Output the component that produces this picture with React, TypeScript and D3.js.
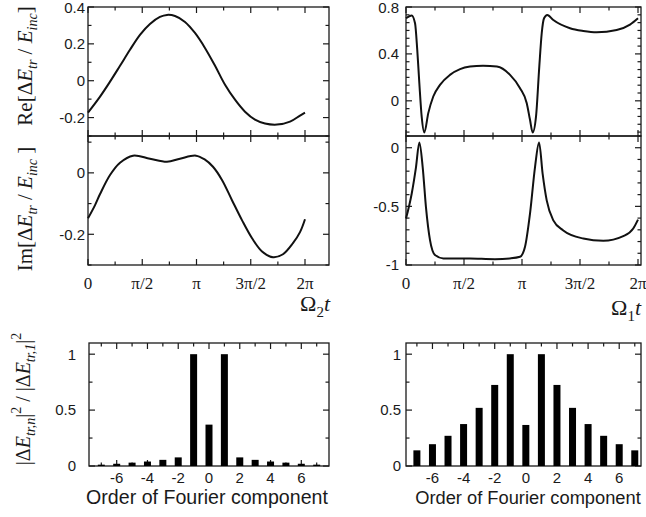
import React, { useEffect, useRef } from 'react';
import * as d3 from 'd3';

// t is given in units of pi (0..2)
const reOmega2T = [0, 0.111, 0.203, 0.295, 0.387, 0.479, 0.571, 0.663, 0.728, 0.802, 0.894, 0.986, 1.078, 1.171, 1.263, 1.355, 1.447, 1.539, 1.631, 1.742, 1.862, 1.954, 2.0];
const reOmega2V = [-0.173, -0.086, -0.005, 0.081, 0.168, 0.249, 0.308, 0.346, 0.357, 0.351, 0.319, 0.259, 0.178, 0.081, -0.022, -0.103, -0.168, -0.211, -0.232, -0.238, -0.222, -0.189, -0.173];

const imOmega2T = [0, 0.065, 0.111, 0.203, 0.295, 0.415, 0.571, 0.728, 0.848, 0.995, 1.078, 1.152, 1.235, 1.327, 1.419, 1.512, 1.604, 1.705, 1.797, 1.889, 1.954, 2.0];
const imOmega2V = [-0.148, -0.105, -0.069, -0.007, 0.033, 0.056, 0.046, 0.036, 0.046, 0.056, 0.043, 0.02, -0.023, -0.089, -0.154, -0.213, -0.256, -0.275, -0.265, -0.229, -0.193, -0.151];

const reOmega1T = [0, 0.049, 0.078, 0.097, 0.115, 0.135, 0.158, 0.192, 0.235, 0.293, 0.379, 0.466, 0.552, 0.664, 0.784, 0.897, 0.983, 1.041, 1.069, 1.092, 1.121, 1.149, 1.17, 1.19, 1.218, 1.27, 1.414, 1.528, 1.644, 1.816, 1.931, 2.0];
const reOmega1V = [0.704, 0.728, 0.661, 0.434, 0.15, -0.133, -0.27, -0.105, 0.037, 0.136, 0.221, 0.27, 0.292, 0.3, 0.292, 0.221, 0.108, -0.02, -0.162, -0.27, -0.133, 0.292, 0.576, 0.704, 0.732, 0.689, 0.619, 0.596, 0.585, 0.604, 0.65, 0.704];

const imOmega1T = [0, 0.049, 0.086, 0.115, 0.144, 0.172, 0.207, 0.25, 0.322, 0.552, 0.767, 0.897, 0.983, 1.026, 1.069, 1.112, 1.147, 1.178, 1.213, 1.27, 1.356, 1.528, 1.701, 1.873, 1.959, 2.0];
const imOmega1V = [-0.604, -0.392, -0.167, 0.045, -0.167, -0.506, -0.788, -0.915, -0.944, -0.945, -0.95, -0.944, -0.93, -0.845, -0.562, -0.167, 0.045, -0.223, -0.449, -0.619, -0.705, -0.774, -0.794, -0.754, -0.689, -0.613];

const fourierOrders = [-7, -6, -5, -4, -3, -2, -1, 0, 1, 2, 3, 4, 5, 6, 7];
const fourierLeft = [0.012, 0.02, 0.03, 0.04, 0.055, 0.077, 1, 0.37, 1, 0.077, 0.055, 0.04, 0.03, 0.02, 0.012];
const fourierRight = [0.14, 0.195, 0.27, 0.375, 0.52, 0.725, 1, 0.367, 1, 0.725, 0.52, 0.375, 0.27, 0.195, 0.14];

const piTicks = [0, 0.5, 1, 1.5, 2];
const piLabels = ['0', 'π/2', 'π', '3π/2', '2π'];
const piMinor = [0.25, 0.75, 1.25, 1.75];
const orderTicks = [-6, -4, -2, 0, 2, 4, 6];
const orderMinor = [-7, -5, -3, -1, 1, 3, 5, 7];

const SANS = 'Liberation Sans, Arial, sans-serif';
const SERIF = 'Liberation Serif, Times New Roman, serif';
const INK = '#1a1a1a';

const drawPanel = (g, p) => {
  const { x, y, x0, x1, y0, y1, xMaj, xMin, yMaj, yMin } = p;
  const segs = [];
  const add = (vals, len, horiz) => vals.forEach(v => {
    if (horiz) {
      const xv = x(v);
      segs.push([xv, y0, xv, y0 + len], [xv, y1, xv, y1 - len]);
    } else {
      const yv = y(v);
      segs.push([x0, yv, x0 + len, yv], [x1, yv, x1 - len, yv]);
    }
  });
  add(xMaj, 6, true);
  add(xMin, 3.5, true);
  add(yMaj, 6, false);
  add(yMin, 3.5, false);

  g.append('rect')
    .attr('x', x0).attr('y', y0)
    .attr('width', x1 - x0).attr('height', y1 - y0)
    .attr('fill', 'none').attr('stroke', INK).attr('stroke-width', 1.3);

  g.selectAll(null).data(segs).enter().append('line')
    .attr('x1', d => d[0]).attr('y1', d => d[1])
    .attr('x2', d => d[2]).attr('y2', d => d[3])
    .attr('stroke', INK).attr('stroke-width', 1.2);
};

const yLabels = (g, y, vals, xr) => {
  g.selectAll(null).data(vals).enter().append('text')
    .attr('x', xr).attr('y', d => Math.max(y(d), 8))
    .attr('dy', '0.36em')
    .attr('text-anchor', 'end')
    .style('font-family', SANS).style('font-size', '15px').attr('fill', INK)
    .text(d => String(d));
};

const piLabelRow = (g, x, yPos) => {
  g.selectAll(null).data(piTicks).enter().append('text')
    .attr('x', d => x(d)).attr('y', yPos)
    .attr('text-anchor', 'middle')
    .style('font-family', SERIF).style('font-size', '17px').attr('fill', INK)
    .text((_, i) => piLabels[i]);
};

const curve = (g, x, y, ts, vs, smooth) => {
  const line = d3.line().x(d => x(d[0])).y(d => y(d[1]))
    .curve(smooth ? d3.curveCatmullRom.alpha(0.5) : d3.curveMonotoneX);
  g.append('path')
    .attr('d', line(ts.map((t, i) => [t, vs[i]])))
    .attr('fill', 'none').attr('stroke', '#111').attr('stroke-width', 2);
};

// rotated axis label built from [text, style] parts
const rotLabel = (g, cx, cy, parts, size) => {
  const t = g.append('text')
    .attr('transform', `translate(${cx},${cy}) rotate(-90)`)
    .attr('text-anchor', 'middle')
    .style('font-family', SERIF).style('font-size', size).attr('fill', INK);
  let shift = 0;
  parts.forEach(([s, kind]) => {
    const ts = t.append('tspan').text(s);
    let target = 0;
    if (kind === 'sub') target = 5;
    if (kind === 'sup') target = -9;
    ts.attr('dy', target - shift);
    shift = target;
    if (kind === 'sub' || kind === 'sup') ts.style('font-size', '14px');
    if (kind === 'it' || kind === 'sub') ts.style('font-style', 'italic');
  });
};

const App = () => {
  const ref = useRef(null);

  useEffect(() => {
    const svg = d3.select(ref.current);
    svg.selectAll('*').remove();
    const g = svg.append('g');

    const xL = d3.scaleLinear().domain([0, 2]).range([88, 305]);
    const xR = d3.scaleLinear().domain([0, 2]).range([406, 638]);

    const yReL = d3.scaleLinear().domain([-0.3, 0.4]).range([136, 7]);
    const yImL = d3.scaleLinear().domain([-0.3, 0.12]).range([265, 136]);
    const yReR = d3.scaleLinear().domain([-0.3, 0.8]).range([136, 7]);
    const yImR = d3.scaleLinear().domain([-1, 0.1]).range([265, 136]);

    // left column
    drawPanel(g, { x: xL, y: yReL, x0: 88, x1: 329, y0: 7, y1: 136,
      xMaj: piTicks, xMin: piMinor, yMaj: [-0.2, 0, 0.2, 0.4], yMin: [-0.3, -0.1, 0.1, 0.3] });
    drawPanel(g, { x: xL, y: yImL, x0: 88, x1: 329, y0: 136, y1: 265,
      xMaj: piTicks, xMin: piMinor, yMaj: [-0.2, 0], yMin: [-0.3, -0.1, 0.1] });
    yLabels(g, yReL, [0.4, 0.2, 0, -0.2], 85);
    yLabels(g, yImL, [0, -0.2], 85);
    piLabelRow(g, xL, 289);
    curve(g, xL, yReL, reOmega2T, reOmega2V, true);
    curve(g, xL, yImL, imOmega2T, imOmega2V, true);

    // right column
    const minorRe = [-0.2667, -0.2, -0.1333, -0.0667, 0.0667, 0.1333, 0.2, 0.2667, 0.3333, 0.4667, 0.5333, 0.6, 0.6667, 0.7333];
    drawPanel(g, { x: xR, y: yReR, x0: 406, x1: 641, y0: 7, y1: 136,
      xMaj: piTicks, xMin: piMinor, yMaj: [0, 0.4, 0.8], yMin: minorRe });
    drawPanel(g, { x: xR, y: yImR, x0: 406, x1: 641, y0: 136, y1: 265,
      xMaj: piTicks, xMin: piMinor, yMaj: [-1, -0.5, 0], yMin: [-0.9, -0.8, -0.7, -0.6, -0.4, -0.3, -0.2, -0.1, 0.1] });
    yLabels(g, yReR, [0.8, 0.4, 0], 399);
    yLabels(g, yImR, [0, -0.5, -1], 399);
    piLabelRow(g, xR, 289);
    curve(g, xR, yReR, reOmega1T, reOmega1V, false);
    curve(g, xR, yImR, imOmega1T, imOmega1V, false);

    // Omega t labels
    const omega = (xEnd, yBase, sub) => {
      const t = g.append('text').attr('x', xEnd).attr('y', yBase)
        .attr('text-anchor', 'end')
        .style('font-family', SERIF).style('font-size', '22px').attr('fill', INK);
      t.append('tspan').text('Ω');
      t.append('tspan').text(sub).attr('dy', 6).style('font-size', '15px');
      t.append('tspan').text('t').attr('dy', -6).style('font-style', 'italic');
    };
    omega(330, 311, '2');
    omega(641, 315, '1');

    rotLabel(g, 32, 66, [['Re[Δ', ''], ['E', 'it'], ['tr', 'sub'], [' / ', ''], ['E', 'it'], ['inc', 'sub'], [']', '']], '21px');
    rotLabel(g, 32, 209, [['Im[Δ', ''], ['E', 'it'], ['tr', 'sub'], [' / ', ''], ['E', 'it'], ['inc', 'sub'], [' ]', '']], '21px');
    rotLabel(g, 30, 399, [['|Δ', ''], ['E', 'it'], ['tr,n', 'sub'], ['|', ''], ['2', 'sup'], [' / |Δ', ''], ['E', 'it'], ['tr,1', 'sub'], ['|', ''], ['2', 'sup']], '20px');

    // Fourier bar panels
    const yB = d3.scaleLinear().domain([0, 1.1]).range([466, 343]);
    const bars = (x, x0, x1, vals, labelX, titleX, titleSize) => {
      drawPanel(g, { x, y: yB, x0, x1, y0: 343, y1: 466,
        xMaj: orderTicks, xMin: orderMinor, yMaj: [0, 0.5, 1], yMin: [0.25, 0.75] });
      const bw = 7;
      g.selectAll(null).data(fourierOrders).enter().append('rect')
        .attr('x', d => x(d) - bw / 2)
        .attr('y', (_, i) => yB(vals[i]))
        .attr('width', bw)
        .attr('height', (_, i) => yB(0) - yB(vals[i]))
        .attr('fill', '#000');
      yLabels(g, yB, [1, 0.5, 0], labelX);
      g.selectAll(null).data(orderTicks).enter().append('text')
        .attr('x', d => x(d)).attr('y', 483)
        .attr('text-anchor', 'middle')
        .style('font-family', SANS).style('font-size', '15px').attr('fill', INK)
        .text(d => String(d));
      g.append('text').attr('x', titleX).attr('y', 504)
        .attr('text-anchor', 'middle')
        .style('font-family', SANS).style('font-size', titleSize).attr('fill', INK)
        .text('Order of Fourier component');
    };
    bars(d3.scaleLinear().domain([-7.8, 7.8]).range([89, 329]), 89, 329, fourierLeft, 76, 207, '19.6px');
    bars(d3.scaleLinear().domain([-7.7, 7.4]).range([406, 641]), 406, 641, fourierRight, 401, 528, '18.3px');
  }, []);

  return (
    <svg ref={ref} width={646} height={517}
      style={{ position: 'absolute', left: 0, top: 0, background: '#fff' }} />
  );
};

export default App;
